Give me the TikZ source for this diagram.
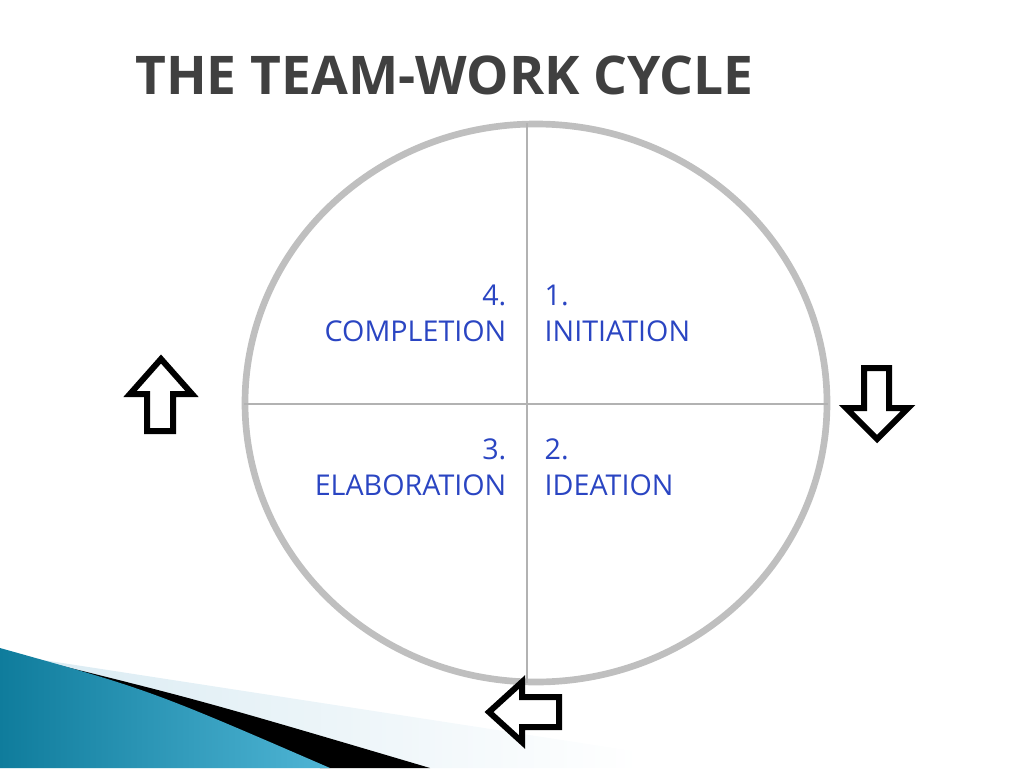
\documentclass[tikz,border=0pt]{standalone}
\usepackage{fontspec}
\setmainfont{Open Sans}
\definecolor{lblue}{HTML}{2A45C2}
\definecolor{teal1}{HTML}{0F7C9C}
\definecolor{teal2}{HTML}{4FB5D5}
\definecolor{band}{HTML}{D8EAF2}
\begin{document}
\begin{tikzpicture}[x=0.75pt,y=-0.75pt,
  lbl/.style={text=lblue, font=\fontsize{21.5}{27}\selectfont, align=left},
  arr/.style={draw=black, line width=4.5pt, fill=white, line join=miter}]
\useasboundingbox (0,0) rectangle (1024,768);
% decoration
\shade[left color=band, right color=white] (30,658) -- (640,752) -- (640,768) -- (0,768) -- cycle;
\fill[black] (30,658) .. controls (200,700) .. (430,768) -- (320,768) -- cycle;
\shade[left color=teal1, right color=teal2] (0,648) .. controls (150,690) .. (330,768) -- (0,768) -- cycle;
% title
\node[text=black!75, font=\fontsize{40}{48}\selectfont\bfseries, anchor=west, inner sep=0pt] (title) at (135,75) {THE TEAM-WORK CYCLE};
% circle
\draw[black!25, line width=5pt] (536,403) ellipse [x radius=291, y radius=279];
\coordinate (t) at (527,123); \coordinate (b) at (527,683);
\coordinate (l) at (244,404); \coordinate (r) at (828,404);
\draw[black!30, line width=0.8pt] (t) -- (b);
\draw[black!30, line width=0.8pt] (l) -- (r);
% labels
\node[lbl, align=right, anchor=east] (c4) at (511,313) {4.\\COMPLETION};
\node[lbl, anchor=west] (c1) at (540,313) {1.\\INITIATION};
\node[lbl, align=right, anchor=east] (c3) at (511,467) {3.\\ELABORATION};
\node[lbl, anchor=west] (c2) at (540,467) {2.\\IDEATION};
% arrows
\draw[arr] (161,359) -- (192,394) -- (173,394) -- (173,431) -- (147,431) -- (147,394) -- (130,394) -- cycle;
\draw[arr] (877,439) -- (908,408) -- (889,408) -- (889,368) -- (864,368) -- (864,408) -- (846,408) -- cycle;
\draw[arr] (489,712) -- (522,682) -- (522,697) -- (559,697) -- (559,727) -- (522,727) -- (522,742) -- cycle;
\end{tikzpicture}
\end{document}
